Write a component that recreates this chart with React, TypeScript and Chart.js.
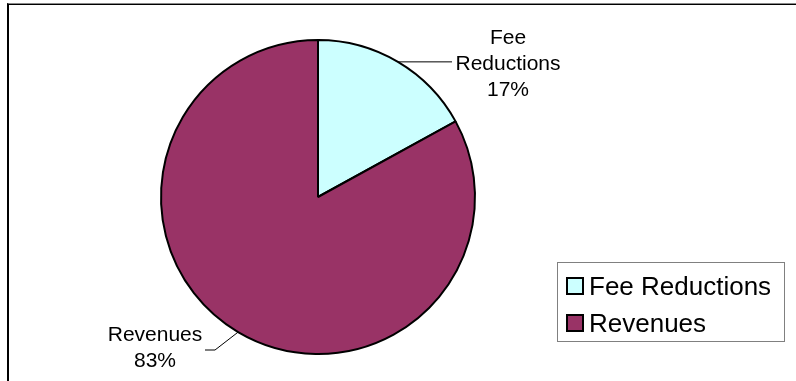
import React, { useEffect, useRef } from "react";
import { Chart, registerables } from "chart.js";

Chart.register(...registerables);

const categories = ["Fee Reductions", "Revenues"];
const values = [17, 83];
const colors = ["#CCFFFF", "#993366"];
const labelNameLines = [["Fee", "Reductions"], ["Revenues"]];

const FONT = "'Liberation Sans', Arial, sans-serif";

// label placement relative to the pie centre (style only)
const labelLayout = [
  { elbow: null as null | [number, number], end: [134, 0], textX: 190, textY: -159, useAnchorY: true },
  { elbow: [-103, 153] as [number, number], end: [-113, 153], textX: -163, textY: 138, useAnchorY: false },
];

const labelPlugin = {
  id: "pieLabels",
  afterDatasetsDraw(chart: any) {
    const ctx = chart.ctx;
    const meta = chart.getDatasetMeta(0);
    const data = chart.data.datasets[0].data as number[];
    const total = data.reduce((a, b) => a + b, 0);
    meta.data.forEach((arc: any, i: number) => {
      const p = arc.getProps(["x", "y", "startAngle", "endAngle", "outerRadius"], true);
      const mid = (p.startAngle + p.endAngle) / 2;
      const ax = p.x + Math.cos(mid) * p.outerRadius;
      const ay = p.y + Math.sin(mid) * p.outerRadius;
      const L = labelLayout[i];
      ctx.save();
      ctx.strokeStyle = "#000";
      ctx.lineWidth = 1;
      ctx.beginPath();
      ctx.moveTo(ax, ay);
      if (L.elbow) ctx.lineTo(p.x + L.elbow[0], p.y + L.elbow[1]);
      const ey = L.useAnchorY ? ay : p.y + L.end[1];
      ctx.lineTo(p.x + L.end[0], ey);
      ctx.stroke();
      const lines = [...labelNameLines[i], Math.round((data[i] / total) * 100) + "%"];
      ctx.fillStyle = "#000";
      ctx.font = `21px ${FONT}`;
      ctx.textAlign = "center";
      ctx.textBaseline = "middle";
      lines.forEach((t, j) => {
        ctx.fillText(t, p.x + L.textX, p.y + L.textY + j * 26);
      });
      ctx.restore();
    });
  },
};

export default function App() {
  const ref = useRef<HTMLCanvasElement>(null);
  useEffect(() => {
    if (!ref.current) return;
    const chart = new Chart(ref.current, {
      type: "pie",
      data: {
        labels: categories,
        datasets: [
          {
            data: values,
            backgroundColor: colors,
            borderColor: "#000",
            borderWidth: 2,
          },
        ],
      },
      options: {
        responsive: false,
        animation: false,
        layout: { padding: { left: 160, right: 320, top: 39, bottom: 26 } },
        plugins: { legend: { display: false }, tooltip: { enabled: false } },
      },
      plugins: [labelPlugin],
    });
    return () => chart.destroy();
  }, []);

  return (
    <div style={{ position: "fixed", left: 0, top: 0, width: 796, height: 381, background: "#fff", overflow: "hidden" }}>
      <div style={{ position: "absolute", left: 7, top: 3, width: 800, height: 400, borderTop: "1px solid #888", borderLeft: "2px solid #000" }}>
        <div style={{ borderTop: "1px solid #000" }} />
      </div>
      <canvas ref={ref} width={796} height={381} style={{ position: "absolute", left: 0, top: 0 }} />
      <div
        style={{
          position: "absolute",
          left: 557,
          top: 262,
          width: 226,
          height: 78,
          border: "1px solid #808080",
          fontFamily: FONT,
          fontSize: 26,
          color: "#000",
        }}
      >
        {categories.map((c, i) => (
          <div key={c} style={{ position: "absolute", left: 8, top: 13 + i * 37, height: 20, display: "flex", alignItems: "center", whiteSpace: "nowrap" }}>
            <span style={{ display: "inline-block", width: 14, height: 14, border: "2px solid #000", background: colors[i], marginRight: 5 }} />
            <span style={{ lineHeight: "20px" }}>{c}</span>
          </div>
        ))}
      </div>
    </div>
  );
}
